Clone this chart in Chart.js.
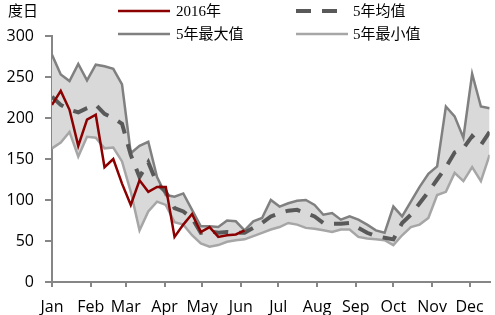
<!DOCTYPE html>
<html>
<head>
<meta charset="utf-8">
<script src="https://cdn.jsdelivr.net/npm/chart.js@4.4.0/dist/chart.umd.min.js"></script>
<style>
  html, body { margin: 0; padding: 0; background: #fff; }
  #wrap { width: 495px; height: 315px; position: relative; }
</style>
</head>
<body>
<div id="wrap"><canvas id="chart"></canvas></div>
<script>
// Weekly heating degree days, one value per week starting Jan 1
const unitLabel = '度日';
const monthLabels = ['Jan', 'Feb', 'Mar', 'Apr', 'May', 'Jun', 'Jul', 'Aug', 'Sep', 'Oct', 'Nov', 'Dec'];
const monthStartDays = [0, 31, 59, 90, 120, 151, 181, 212, 243, 273, 304, 334];

const values2016 = [216, 233, 210, 166, 198, 204, 140, 150, 120, 94, 124, 110, 116, 116, 55, 70, 83, 61, 67, 55, 57, 58, 63];
const avgVals = [226, 216, 210, 207, 212, 216, 205, 200, 193, 155, 128, 146, 120, 110, 90, 86, 78, 60, 62, 60, 61, 60, 60, 66, 72, 80, 84, 87, 88, 84, 80, 72, 71, 71, 72, 66, 60, 56, 54, 52, 72, 82, 96, 110, 125, 140, 158, 163, 178, 167, 183];
const maxVals = [277, 253, 245, 266, 246, 265, 263, 260, 241, 157, 166, 171, 128, 106, 104, 108, 88, 68, 68, 67, 75, 74, 63, 74, 78, 100, 92, 96, 99, 100, 94, 82, 84, 76, 80, 76, 70, 63, 60, 92, 80, 98, 116, 132, 141, 214, 202, 176, 254, 214, 212];
const minVals = [163, 170, 183, 153, 177, 176, 163, 164, 147, 110, 63, 86, 98, 94, 73, 70, 57, 47, 43, 45, 49, 51, 52, 56, 60, 64, 67, 72, 70, 66, 65, 63, 61, 64, 64, 55, 53, 52, 51, 45, 57, 67, 70, 78, 106, 110, 133, 123, 140, 123, 155];

const seriesLabels = ['2016年', '5年均值', '5年最大值', '5年最小值'];

// week index -> day of year
function toPoints(arr) {
    return arr.map((v, i) => ({ x: i * 7, y: v }));
}

const legendFont = '15px "Liberation Serif", "Noto Sans CJK SC", serif';

// legend drawn in the top strip, two rows of two
const legendPlugin = {
    id: 'topLegend',
    afterDraw(chart) {
        const ctx = chart.ctx;
        const slots = [
            { x1: 118, x2: 170, y: 11 },
            { x1: 296, x2: 342, y: 11 },
            { x1: 118, x2: 170, y: 34 },
            { x1: 296, x2: 348, y: 34 }
        ];
        ctx.save();
        ctx.font = legendFont;
        ctx.fillStyle = '#000';
        ctx.textBaseline = 'middle';
        ctx.fillText(unitLabel, 8, 12);

        chart.data.datasets.forEach((ds, i) => {
            const s = slots[i];
            ctx.beginPath();
            ctx.strokeStyle = ds.borderColor;
            ctx.lineWidth = ds.borderWidth;
            ctx.setLineDash(ds.borderDash || []);
            ctx.moveTo(s.x1, s.y);
            ctx.lineTo(s.x2, s.y);
            ctx.stroke();
            ctx.setLineDash([]);
            ctx.fillText(ds.label, s.x1 === 118 ? 176 : 353, s.y + 1);
        });
        ctx.restore();
    }
};

const ctx = document.getElementById('chart').getContext('2d');

const chart = new Chart(ctx, {
    type: 'line',
    data: {
        datasets: [
            {
                label: seriesLabels[0],
                data: toPoints(values2016),
                borderColor: '#8b0000',
                borderWidth: 2.5,
                pointRadius: 0,
                fill: false
            },
            {
                label: seriesLabels[1],
                data: toPoints(avgVals),
                borderColor: '#595959',
                borderWidth: 4,
                borderDash: [15, 11],
                pointRadius: 0,
                fill: false
            },
            {
                label: seriesLabels[2],
                data: toPoints(maxVals),
                borderColor: '#808080',
                backgroundColor: '#d9d9d9',
                borderWidth: 2.5,
                pointRadius: 0,
                fill: 3
            },
            {
                label: seriesLabels[3],
                data: toPoints(minVals),
                borderColor: '#a6a6a6',
                borderWidth: 2.5,
                pointRadius: 0,
                fill: false
            }
        ]
    },
    options: {
        responsive: true,
        maintainAspectRatio: false,
        animation: false,
        layout: {
            padding: { top: 36, right: 5, left: 0, bottom: 0 }
        },
        scales: {
            x: {
                type: 'linear',
                min: 0,
                max: 350,
                afterBuildTicks: (scale) => {
                    scale.ticks = monthStartDays.map(d => ({ value: d }));
                },
                afterFit: (scale) => { scale.height = 33; },
                ticks: {
                    autoSkip: false,
                    maxRotation: 0,
                    padding: 11,
                    color: '#000',
                    font: { family: '"Open Sans"', size: 16 },
                    callback: (v) => monthLabels[monthStartDays.indexOf(v)]
                },
                grid: {
                    drawOnChartArea: false,
                    tickLength: 5,
                    color: '#868686',
                    lineWidth: 2
                },
                border: { color: '#868686', width: 2 }
            },
            y: {
                min: 0,
                max: 300,
                afterFit: (scale) => { scale.width = 52; },
                ticks: {
                    stepSize: 50,
                    padding: 11,
                    color: '#000',
                    font: { family: '"Open Sans"', size: 16 }
                },
                grid: {
                    drawOnChartArea: false,
                    tickLength: 7,
                    color: '#868686',
                    lineWidth: 2
                },
                border: { color: '#868686', width: 2 }
            }
        },
        plugins: {
            legend: { display: false },
            tooltip: { enabled: false },
            filler: { drawTime: 'beforeDatasetsDraw' }
        }
    },
    plugins: [legendPlugin]
});
</script>
</body>
</html>
